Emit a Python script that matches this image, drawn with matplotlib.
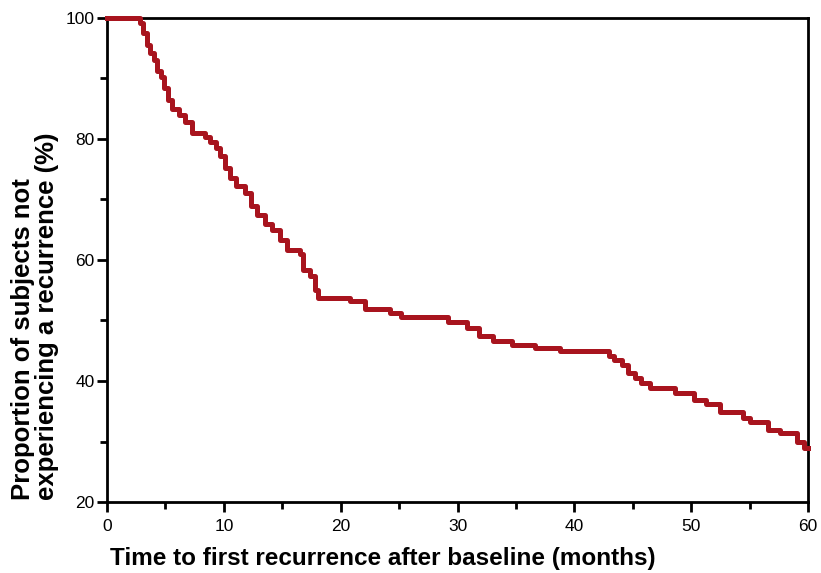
import numpy as np
import matplotlib.pyplot as plt

plt.rcParams['font.family'] = ['Liberation Sans', 'DejaVu Sans']

# step times (months) and survival (%) after each step
months = [0, 2.8, 3.1, 3.4, 3.7, 4.0, 4.3, 4.6, 4.9, 5.2, 5.6, 6.2, 6.7, 7.3,
          8.4, 8.8, 9.3, 9.7, 10.1, 10.5, 11.0, 11.8, 12.3, 12.8, 13.5, 14.1,
          14.8, 15.4, 16.5, 16.8, 17.4, 17.8, 18.1, 20.8, 22.1, 24.2, 25.2,
          29.2, 30.8, 31.8, 33.0, 34.7, 36.6, 38.8, 43.0, 43.4, 44.1, 44.6,
          45.2, 45.7, 46.5, 48.6, 50.2, 51.3, 52.5, 54.4, 55.0, 56.6, 57.6,
          59.1, 59.7, 60]
surv = [100, 99.2, 97.5, 95.5, 94.2, 93.0, 91.3, 90.2, 88.5, 86.4, 85.0, 84.0,
        82.8, 81.0, 80.4, 79.5, 78.5, 77.2, 75.2, 73.6, 72.2, 71.0, 69.0, 67.4,
        66.0, 65.0, 63.3, 61.7, 61.0, 58.3, 57.4, 55.0, 53.8, 53.2, 51.9, 51.2,
        50.5, 49.8, 48.7, 47.4, 46.6, 46.0, 45.5, 45.0, 44.2, 43.5, 42.6, 41.4,
        40.5, 39.6, 38.9, 38.0, 36.9, 36.2, 34.9, 33.9, 33.2, 31.9, 31.4, 29.9,
        28.9, 28.9]

W, H = 821, 573
fig = plt.figure(figsize=(W / 100, H / 100), dpi=100)
ax = fig.add_axes([107 / W, 1 - 502 / H, 701 / W, 484 / H])

ax.step(months, surv, where='post', color='#A8141E', lw=3.6, clip_on=False,
        zorder=5)

ax.set_xlim(0, 60)
ax.set_ylim(20, 100)
ax.set_xticks(np.arange(0, 61, 10))
ax.set_xticks(np.arange(5, 60, 10), minor=True)
ax.set_yticks(np.arange(20, 101, 20))
ax.set_yticks(np.arange(30, 100, 20), minor=True)

for s in ax.spines.values():
    s.set_linewidth(2)
    s.set_color('black')

ax.tick_params(which='major', length=7, width=2, labelsize=12.5, direction='out',
               top=False, right=False)
ax.tick_params(which='minor', length=5, width=2, direction='out',
               top=False, right=False)
ax.tick_params(axis='x', pad=5)
ax.tick_params(axis='y', pad=2)

# axis titles, placed like the original (left-anchored)
fig.text(110 / W, 1 - 558 / H, 'Time to first recurrence after baseline (months)',
         fontsize=17.5, fontweight='bold', ha='left', va='center')
fig.text(35 / W, 1 - 500 / H,
         'Proportion of subjects not\nexperiencing a recurrence (%)',
         fontsize=18.5, fontweight='bold', rotation=90, rotation_mode='anchor',
         ha='left', va='center', multialignment='left', linespacing=1.0)

fig.savefig('out.png', dpi=100)
